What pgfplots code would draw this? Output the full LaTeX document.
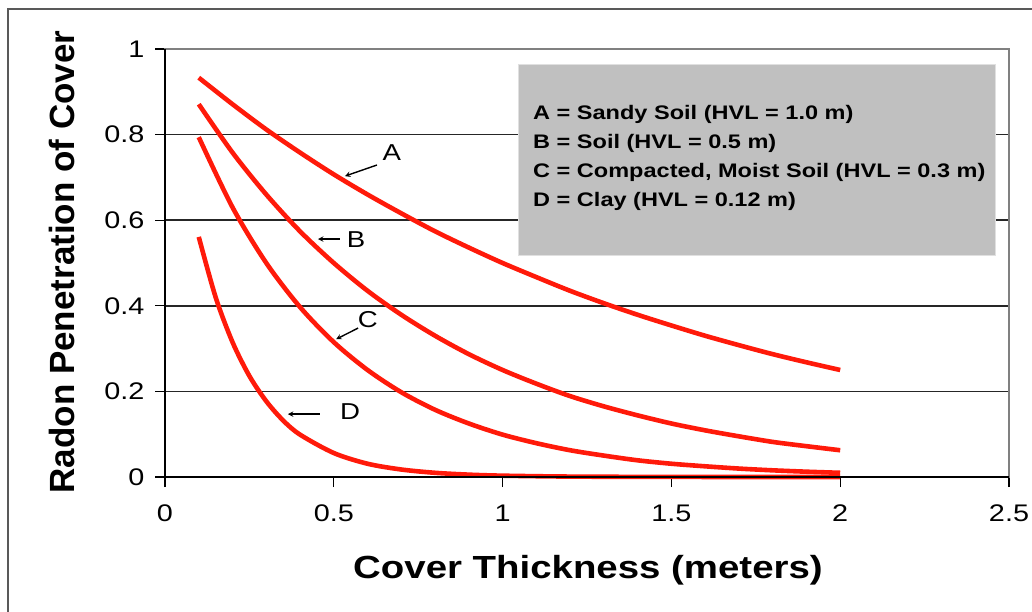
\documentclass[border=0pt]{standalone}
\usepackage{fontspec}
\setmainfont{Liberation Sans}[FakeStretch=1.2]
\newfontfamily\plainsans{Liberation Sans}
\usepackage{pgfplots}
\pgfplotsset{compat=1.18}

\definecolor{curvered}{HTML}{FF1A0A}
\definecolor{boxgray}{HTML}{C0C0C0}

\begin{document}
\begin{tikzpicture}
\useasboundingbox (0pt,0pt) rectangle (1032pt,-612pt);
\draw[black!65, line width=1.5pt] (1032pt,-9pt) -- (8pt,-9pt) -- (8pt,-612pt);
\begin{axis}[
    at={(165pt,-477pt)}, anchor=south west,
    scale only axis,
    width=844pt, height=428pt,
    xmin=0, xmax=2.5, ymin=0, ymax=1,
    xtick={0,0.5,1,1.5,2,2.5},
    ytick={0,0.2,0.4,0.6,0.8,1},
    tick pos=left,
    tick align=outside,
    major tick length=10pt,
    tick style={black, line width=1.3pt},
    axis line style={draw=black!50, line width=2pt},
    ymajorgrids=true,
    grid style={black!85, line width=1.5pt},
    ticklabel style={font=\fontsize{24}{24}\selectfont},
    xticklabel style={yshift=-14pt},
    yticklabel style={xshift=-7pt},
    /pgf/number format/assume math mode=true,
    clip=false,
]
\addplot[curvered, line width=4.6pt, smooth] coordinates {
    (0.1,0.933) (0.2,0.871) (0.3,0.812) (0.4,0.758) (0.5,0.707)
    (0.6,0.660) (0.7,0.616) (0.8,0.574) (0.9,0.536) (1.0,0.500)
    (1.1,0.467) (1.2,0.435) (1.3,0.406) (1.4,0.379) (1.5,0.354)
    (1.6,0.330) (1.7,0.308) (1.8,0.287) (1.9,0.268) (2.0,0.250)
};
\addplot[curvered, line width=4.6pt, smooth] coordinates {
    (0.1,0.871) (0.2,0.758) (0.3,0.660) (0.4,0.574) (0.5,0.500)
    (0.6,0.435) (0.7,0.379) (0.8,0.330) (0.9,0.287) (1.0,0.250)
    (1.1,0.218) (1.2,0.189) (1.3,0.165) (1.4,0.144) (1.5,0.125)
    (1.6,0.109) (1.7,0.095) (1.8,0.082) (1.9,0.072) (2.0,0.0625)
};
\addplot[curvered, line width=4.6pt, smooth] coordinates {
    (0.1,0.794) (0.2,0.630) (0.3,0.500) (0.4,0.397) (0.5,0.315)
    (0.6,0.250) (0.7,0.198) (0.8,0.157) (0.9,0.125) (1.0,0.099)
    (1.1,0.079) (1.2,0.0625) (1.3,0.050) (1.4,0.039) (1.5,0.031)
    (1.6,0.025) (1.7,0.0197) (1.8,0.0156) (1.9,0.0124) (2.0,0.0098)
};
\addplot[curvered, line width=4.6pt, smooth] coordinates {
    (0.1,0.561) (0.15,0.420) (0.2,0.315) (0.25,0.236) (0.3,0.177)
    (0.35,0.132) (0.4,0.099) (0.5,0.056) (0.6,0.031) (0.7,0.0175)
    (0.8,0.0098) (0.9,0.0055) (1.0,0.0031) (1.2,0.001) (1.5,0.0002)
    (2.0,0.0)
};
% left and bottom axis lines are black
\draw[black, line width=2pt] (rel axis cs:0,1) -- (rel axis cs:0,0) -- (rel axis cs:1,0);
% curve labels with arrows
\node[font=\fontsize{23}{23}\selectfont] at (axis cs:0.672,0.759) {A};
\draw[-stealth, line width=1.4pt] (axis cs:0.628,0.729) -- (axis cs:0.533,0.703);
\node[font=\fontsize{23}{23}\selectfont] at (axis cs:0.566,0.554) {B};
\draw[-stealth, line width=1.4pt] (axis cs:0.518,0.556) -- (axis cs:0.453,0.556);
\node[font=\fontsize{23}{23}\selectfont] at (axis cs:0.601,0.367) {C};
\draw[-stealth, line width=1.4pt] (axis cs:0.572,0.348) -- (axis cs:0.507,0.322);
\node[font=\fontsize{23}{23}\selectfont] at (axis cs:0.548,0.152) {D};
\draw[-stealth, line width=1.4pt] (axis cs:0.459,0.147) -- (axis cs:0.364,0.147);
\end{axis}
% key box
\filldraw[fill=boxgray, draw=black!12, line width=1pt] (518pt,-65pt) rectangle (995pt,-255pt);
\begin{scope}[every node/.style={anchor=base west, inner sep=0pt, font=\bfseries\fontsize{19.6}{19.6}\selectfont}]
\node at (533pt,-120pt) {A = Sandy Soil (HVL = 1.0 m)};
\node at (533pt,-149pt) {B = Soil (HVL = 0.5 m)};
\node at (533pt,-178pt) {C = Compacted, Moist Soil (HVL = 0.3 m)};
\node at (533pt,-207pt) {D = Clay (HVL = 0.12 m)};
\end{scope}
% axis titles
\node[anchor=base, inner sep=0pt, font=\bfseries\fontsize{32}{32}\selectfont] at (588pt,-578pt) {Cover Thickness (meters)};
\node[rotate=90, anchor=base, inner sep=0pt, font=\plainsans\bfseries\fontsize{35}{35}\selectfont] at (74pt,-262pt) {Radon Penetration of Cover};
\end{tikzpicture}
\end{document}
